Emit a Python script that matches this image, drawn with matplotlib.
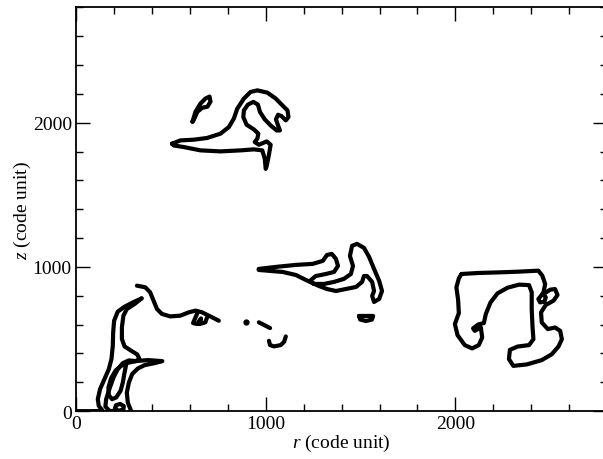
import numpy as np
import matplotlib
matplotlib.use('Agg')
from matplotlib import pyplot as plt
from matplotlib.ticker import MultipleLocator

plt.rcParams['font.family'] = ['Liberation Serif', 'DejaVu Serif']
plt.rcParams['mathtext.fontset'] = 'custom'
plt.rcParams['mathtext.rm'] = 'Liberation Serif'
plt.rcParams['mathtext.it'] = 'Liberation Serif:italic'

# Contour pieces, (r, z) in code units
############################################################################
# top structure
top_small_r = [614, 630, 656, 682, 704, 709, 693, 667, 640, 619, 614]
top_small_z = [2007, 2076, 2132, 2167, 2181, 2146, 2111, 2104, 2076, 2014, 2007]

top_main_r = [506, 550, 621, 691, 762, 806, 832, 850, 885, 920, 956, 1009, 1053, 1088,
              1115, 1120, 1106, 1083, 1065, 1054, 1065, 1075, 1058, 1026, 995, 970, 959,
              935, 906, 885, 882, 899, 938, 961, 956, 942, 964, 1005, 1026, 1017, 1005,
              1000, 995, 982, 938, 868, 762, 656, 568, 515, 506]
top_main_z = [1854, 1877, 1882, 1894, 1924, 1970, 2028, 2097, 2167, 2213, 2224, 2208, 2167,
              2120, 2085, 2039, 2016, 2046, 2055, 2023, 1981, 1946, 1946, 1981, 2023, 2074,
              2125, 2144, 2125, 2085, 2039, 1986, 1953, 1924, 1889, 1866, 1847, 1870, 1847,
              1778, 1699, 1680, 1750, 1808, 1815, 1808, 1801, 1808, 1831, 1842, 1854]

# lower left structure
ll_outer_r = [4, 88, 141, 120, 115, 127, 150, 173, 187, 194, 196, 201, 220, 256, 300, 346]
ll_outer_z = [0, 0, 2, 37, 83, 153, 222, 291, 361, 453, 546, 627, 690, 724, 754, 782]

ll_inner_r = [346, 309, 268, 250, 242, 242, 256, 291, 323, 335, 314, 279, 247, 220, 198,
              176, 159, 155, 176, 212]
ll_inner_z = [782, 743, 708, 662, 581, 500, 449, 419, 393, 361, 347, 352, 333, 291, 234,
              153, 83, 32, 2, 0]

ll_loop_r = [265, 256, 247, 235, 212, 190, 173, 171, 185, 208, 238, 265]
ll_loop_z = [326, 268, 199, 141, 95, 83, 111, 164, 227, 280, 315, 326]

ll_arm_r = [265, 317, 379, 455, 415, 362, 326, 296, 279, 268, 273, 291]
ll_arm_z = [333, 347, 354, 347, 333, 319, 296, 257, 199, 129, 60, 0]

ll_ring_r = [205, 212, 233, 252, 250, 226, 205]
ll_ring_z = [15, 42, 50, 35, 12, 3, 15]

# filament going right from the lower left structure
fil_r = [321, 365, 391, 409, 427, 453, 497, 550, 594, 630, 665, 700, 735, 753]
fil_z = [870, 859, 824, 766, 708, 674, 657, 662, 685, 697, 685, 662, 639, 627]

zig_r = [638, 617, 638, 659, 652, 682, 691]
zig_z = [674, 611, 604, 643, 604, 616, 650]

# small bits in the middle
dot_r = [894]
dot_z = [621]
dash_r = [964, 1023]
dash_z = [616, 576]
hook_r = [1017, 1023, 1044, 1079, 1097, 1106]
hook_z = [488, 458, 449, 458, 481, 518]

# middle right structure
mid_r = [963, 1053, 1159, 1248, 1301, 1323, 1349, 1370, 1381, 1360, 1317, 1264, 1233,
         1254, 1307, 1360, 1412, 1449, 1460, 1444, 1455, 1481, 1518, 1545, 1571, 1598,
         1613, 1598, 1571, 1561, 1571, 1561, 1534, 1518, 1508, 1476, 1423, 1370, 1323,
         1280, 1211, 1159, 1090, 1026, 963]
mid_z = [986, 1000, 1014, 1021, 1042, 1083, 1090, 1056, 1007, 965, 951, 937, 903, 882,
         882, 896, 917, 951, 1007, 1076, 1146, 1160, 1132, 1069, 986, 903, 833, 778, 757,
         799, 833, 896, 937, 937, 896, 861, 847, 833, 847, 868, 910, 944, 965, 972, 979]

oval_r = [1492, 1566, 1560, 1529, 1498, 1492]
oval_z = [660, 660, 635, 625, 635, 660]

# right structure
right_r = [2032, 2120, 2226, 2331, 2437, 2458, 2473, 2464, 2451, 2437, 2446, 2469, 2476,
           2464, 2499, 2525, 2538, 2517, 2476, 2451, 2455, 2487, 2525, 2552, 2561, 2543,
           2508, 2455, 2376, 2305, 2282, 2287, 2328, 2388, 2411, 2406, 2402, 2402, 2388,
           2335, 2275, 2222, 2185, 2160, 2150, 2120, 2093, 2102, 2134, 2141, 2123, 2088,
           2049, 2011, 1997, 2018, 2014, 2005, 2018, 2032]
right_z = [951, 958, 962, 967, 974, 939, 881, 824, 800, 777, 754, 759, 789, 812, 842, 847,
           805, 766, 736, 685, 615, 569, 580, 557, 499, 448, 395, 354, 324, 314, 361, 425,
           448, 458, 499, 592, 708, 824, 874, 877, 856, 817, 754, 673, 611, 601, 574, 557,
           580, 511, 458, 435, 458, 527, 604, 680, 773, 858, 921, 951]
############################################################################

pieces = [(top_small_r, top_small_z), (top_main_r, top_main_z),
          (ll_outer_r, ll_outer_z), (ll_inner_r, ll_inner_z), (ll_loop_r, ll_loop_z),
          (ll_arm_r, ll_arm_z), (ll_ring_r, ll_ring_z), (fil_r, fil_z), (zig_r, zig_z),
          (dash_r, dash_z), (hook_r, hook_z), (mid_r, mid_z), (oval_r, oval_z),
          (right_r, right_z)]

fig = plt.figure(figsize=(6.03, 4.60), dpi=100)
# right edge of the frame sits just past the picture, as in the original
ax = fig.add_axes([0.126, 0.104, 0.881, 0.878])

for rs, zs in pieces:
    ax.plot(rs, zs, color='black', lw=3.0, solid_capstyle='round', solid_joinstyle='round')
ax.plot(dot_r, dot_z, 'o', color='black', ms=3.5)

ax.set_xlim(0, 2800) ; ax.set_ylim(0, 2800)
ax.xaxis.set_major_locator(MultipleLocator(1000))
ax.xaxis.set_minor_locator(MultipleLocator(200))
ax.yaxis.set_major_locator(MultipleLocator(1000))
ax.yaxis.set_minor_locator(MultipleLocator(200))
ax.tick_params(which='both', direction='in', top=True, right=True, width=1.0,
               labelsize=14, pad=3)
ax.tick_params(which='major', length=10)
ax.tick_params(which='minor', length=5)
for s in ax.spines.values():
    s.set_linewidth(1.3)

ax.set_xlabel('$r$ (code unit)', fontsize=14, labelpad=0)
ax.set_ylabel('$z$ (code unit)', fontsize=14, labelpad=0)

fig.savefig('out.png', dpi=100)
